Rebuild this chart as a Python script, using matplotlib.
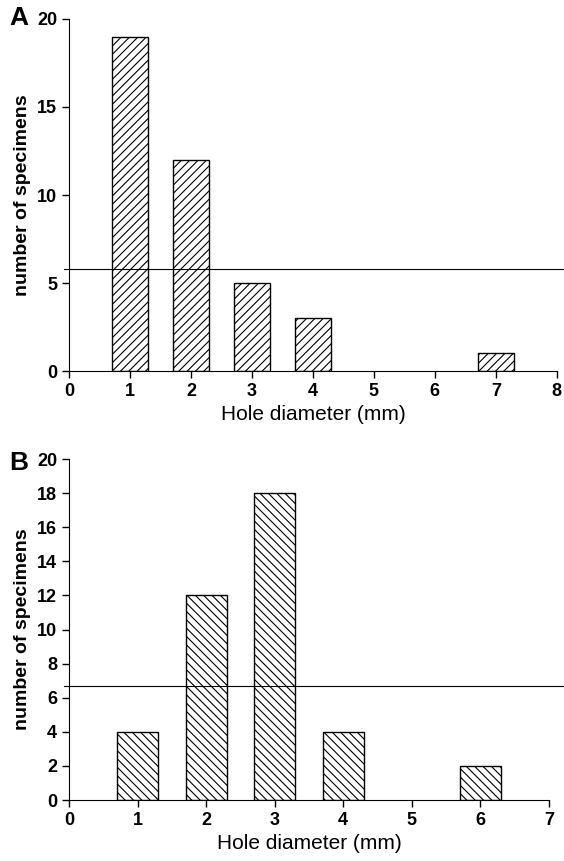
import numpy as np
import matplotlib
matplotlib.use('Agg')
import matplotlib.pyplot as plt

plt.rcParams['font.family'] = ['Liberation Sans', 'DejaVu Sans']
plt.rcParams['hatch.linewidth'] = 0.8

# panel A
diam_a = [1, 2, 3, 4, 7]
count_a = [19, 12, 5, 3, 1]
mean_a = 5.8
# panel B
diam_b = [1, 2, 3, 4, 6]
count_b = [4, 12, 18, 4, 2]
mean_b = 6.7

fig = plt.figure(figsize=(5.64, 8.61), dpi=100)
axA = fig.add_axes([0.1223, 0.569, 0.865, 0.409])
axB = fig.add_axes([0.1223, 0.0708, 0.851, 0.396])

def style(ax, xmax, yticks, hatch, xs, ys, mean):
    ax.bar(xs, ys, width=0.6, color='white', edgecolor='black', hatch=hatch, linewidth=1.0)
    ax.set_xlim(0, xmax)
    ax.set_ylim(0, 20)
    ax.set_xticks(range(0, xmax+1))
    ax.set_yticks(yticks)
    ax.spines['top'].set_visible(False)
    ax.spines['right'].set_visible(False)
    ax.tick_params(direction='out', length=5, width=1, labelsize=13)
    for t in ax.get_xticklabels()+ax.get_yticklabels():
        t.set_fontweight('bold')
    ax.set_xlabel('Hole diameter (mm)', fontsize=15)
    ax.set_ylabel('number of specimens', fontsize=14, fontweight='bold')
    # mean line runs to the right edge of the figure
    x0 = ax.transAxes.inverted().transform(fig.transFigure.transform((1.0, 0)))[0]
    ax.axhline(mean, xmin=-0.01, xmax=x0, color='black', linewidth=0.8, clip_on=False)

style(axA, 8, [0, 5, 10, 15, 20], '////', diam_a, count_a, mean_a)
style(axB, 7, list(range(0, 21, 2)), '\\\\\\\\', diam_b, count_b, mean_b)

fig.text(0.016, 0.979, 'A', fontsize=19, fontweight='bold', va='center')
fig.text(0.016, 0.462, 'B', fontsize=19, fontweight='bold', va='center')

fig.savefig('out.png', dpi=100)
